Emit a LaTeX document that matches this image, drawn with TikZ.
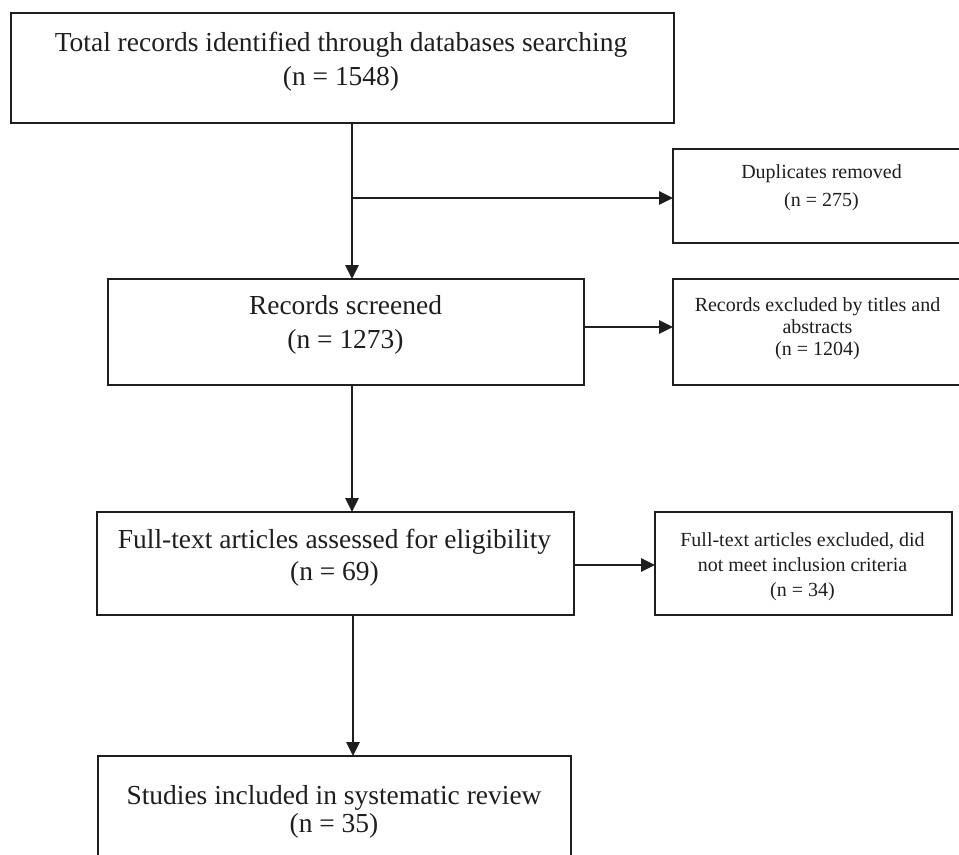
\documentclass[tikz,border=0pt]{standalone}
\usepackage{fontspec}
\setmainfont{Liberation Serif}
\usetikzlibrary{arrows.meta}
\definecolor{ink}{HTML}{1E1E1E}
\begin{document}
\begin{tikzpicture}[x=0.75pt,y=-0.75pt,
  boxnode/.style={draw=ink, line width=1.4pt, inner sep=0pt, outer sep=0pt, rectangle},
  bigtext/.style={text=ink, font=\fontsize{20.6}{25.5}\selectfont, align=center, inner sep=0pt},
  smalltext/.style={text=ink, font=\fontsize{15}{18}\selectfont, align=center, inner sep=0pt},
  conn/.style={draw=ink, line width=1.3pt},
  arr/.style={conn, -{Triangle[length=10.5pt,width=10pt]}}]
\clip (0,0) rectangle (959,854);
% boxes
\node[boxnode, minimum width=497.25pt, minimum height=82.5pt] (b1) at (342.5,68) {};
\node[boxnode, minimum width=219pt, minimum height=70.5pt] (dup) at (819,196) {};
\node[boxnode, minimum width=357pt, minimum height=79.5pt] (rs) at (346,332) {};
\node[boxnode, minimum width=219pt, minimum height=79.5pt] (ex) at (819,332) {};
\node[boxnode, minimum width=357.75pt, minimum height=77.25pt] (ft) at (335.5,563.5) {};
\node[boxnode, minimum width=222.75pt, minimum height=77.25pt] (fx) at (803.5,563.5) {};
\node[boxnode, minimum width=354.75pt, minimum height=93pt] (st) at (334.5,818) {};
% texts
\node[bigtext] (t1) at (341,61.5) {Total records identified through databases searching\\(n = 1548)};
\node[smalltext, font=\fontsize{15}{21}\selectfont] (t2) at (821.5,187.5) {Duplicates removed\\(n = 275)};
\node[bigtext] (t3) at (345.5,325) {Records screened\\(n = 1273)};
\node[smalltext, font=\fontsize{15}{16.5}\selectfont] (t4) at (817.5,328.5) {Records excluded by titles and\\abstracts\\(n = 1204)};
\node[bigtext, font=\fontsize{20.6}{24}\selectfont] (t5) at (334.5,558) {Full-text articles assessed for eligibility\\(n = 69)};
\node[smalltext, font=\fontsize{15}{18.75}\selectfont] (t6) at (802.5,566.5) {Full-text articles excluded, did\\not meet inclusion criteria\\(n = 34)};
\node[bigtext, font=\fontsize{20.6}{21}\selectfont] (t7) at (334,812) {Studies included in systematic review\\(n = 35)};
% helper coordinates
\coordinate (cx) at (352,0);
\coordinate (cx2) at (353,0);
\coordinate (split) at (352,198);
\coordinate (ya) at (0,327);
\coordinate (yb) at (0,565);
% connectors
\draw[arr] (b1.south -| cx) -- (rs.north -| cx);
\draw[arr] (split) -- (split -| dup.west);
\draw[arr] (rs.east |- ya) -- (ex.west |- ya);
\draw[arr] (rs.south -| cx) -- (ft.north -| cx);
\draw[arr] (ft.east |- yb) -- (fx.west |- yb);
\draw[arr] (ft.south -| cx2) -- (st.north -| cx2);
\end{tikzpicture}
\end{document}
